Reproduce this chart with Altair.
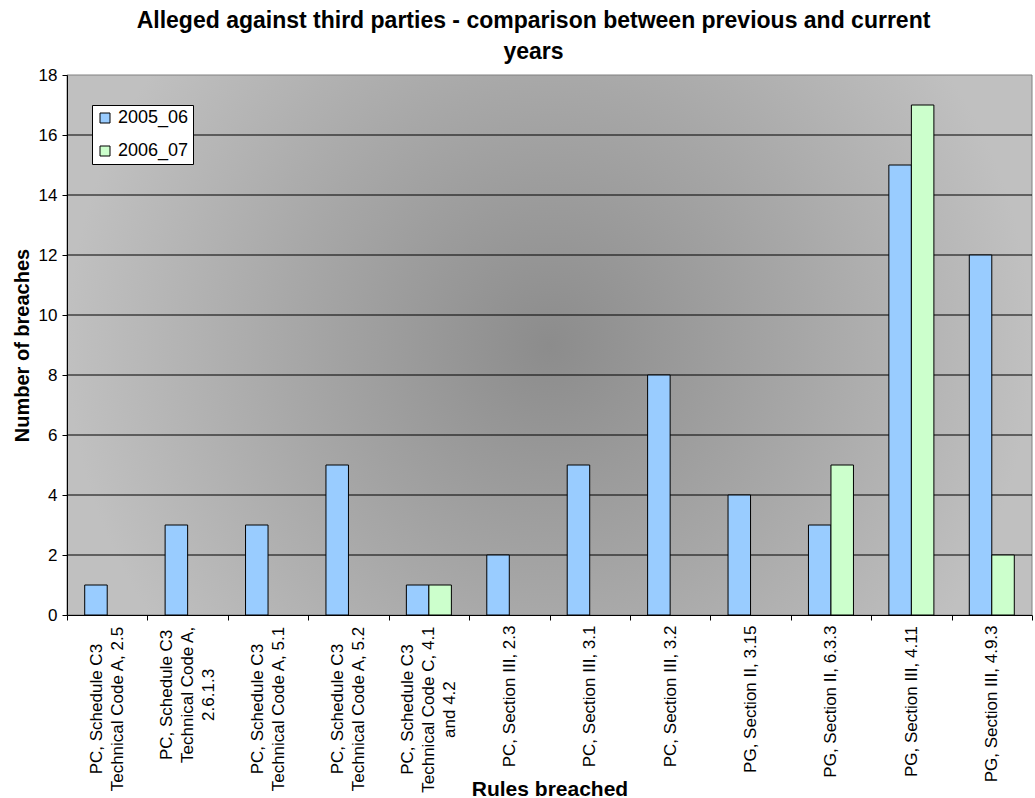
import json

import altair as alt
import pandas as pd

FONT = "Liberation Sans"

# Rules breached (category axis) - line breaks mark where each label wraps
rules = [
    "PC, Schedule C3\nTechnical Code A, 2.5",
    "PC, Schedule C3\nTechnical Code A,\n2.6.1.3",
    "PC, Schedule C3\nTechnical Code A, 5.1",
    "PC, Schedule C3\nTechnical Code A, 5.2",
    "PC, Schedule C3\nTechnical Code C, 4.1\nand 4.2",
    "PC, Section III, 2.3",
    "PC, Section III, 3.1",
    "PC, Section III, 3.2",
    "PG, Section II, 3.15",
    "PG, Section II, 6.3.3",
    "PG, Section III, 4.11",
    "PG, Section III, 4.9.3",
]
breaches_2005_06 = [1, 3, 3, 5, 1, 2, 5, 8, 4, 3, 15, 12]
breaches_2006_07 = [None, None, None, None, 1, None, None, None, None, 5, 17, 2]

series = ["2005_06", "2006_07"]
series_colors = ["#99CCFF", "#CCFFCC"]
y_ticks = [0, 2, 4, 6, 8, 10, 12, 14, 16, 18]

LABEL_SIZE = 17  # category label font size
LINE_H = 21      # line height of the wrapped category labels
LABEL_GAP = 5    # gap between tick end and the top of a label block

# Arial / Liberation Sans advance widths (1/1000 em) for the label characters
GLYPH_W = {
    " ": 278, ",": 278, ".": 278, "A": 667, "C": 722, "G": 778, "I": 278,
    "P": 667, "S": 667, "T": 611, "a": 556, "c": 500, "d": 556, "e": 556,
    "h": 556, "i": 222, "l": 222, "n": 556, "o": 556, "t": 278, "u": 556,
}


def block_length(label):
    """Pixel length of the longest line of a wrapped label."""
    return max(
        sum(GLYPH_W.get(ch, 556) for ch in ln) for ln in label.split("\n")
    ) * LABEL_SIZE / 1000


rows = []
for rule, a, b in zip(rules, breaches_2005_06, breaches_2006_07):
    rows.append({"rule": rule, "series": series[0], "breaches": a})
    if b is not None:
        rows.append({"rule": rule, "series": series[1], "breaches": b})
bars_df = pd.DataFrame(rows)

# Each label line is centred on a point half a block below the axis, so the
# block's top edge sits just under the ticks and its lines are centred.
label_padding = {
    "condition": [
        {"test": f"datum.value == {json.dumps(r)}",
         "value": round(LABEL_GAP + block_length(r) / 2, 1)}
        for r in rules
    ],
    "value": LABEL_GAP,
}
n_lines = "length(split(datum.value, '\\n'))"
label_offset = {
    "condition": [
        {"test": f"{n_lines} == 3", "value": -LINE_H},
        {"test": f"{n_lines} == 2", "value": -LINE_H / 2},
    ],
    "value": 0,
}

y_scale = alt.Scale(domain=[0, 18], nice=False, zero=True)
y_axis = alt.Axis(
    title="Number of breaches",
    values=y_ticks,
    format="d",
    labelFont=FONT,
    labelFontSize=17,
    labelColor="black",
    labelPadding=5,
    tickSize=5,
    tickColor="black",
    domainColor="black",
    grid=False,
    titleFont=FONT,
    titleFontSize=20,
    titleFontWeight="bold",
    titleColor="black",
    titleAngle=270,
    titleX=-45,
    titleY=270,
    titleAlign="center",
    titleBaseline="middle",
    zindex=1,
)

# Plot-area background: grey radial shading, darker toward the middle
background = (
    alt.Chart(pd.DataFrame({"area": [0]}))
    .mark_rect(
        fill=alt.RadialGradient(
            gradient="radial",
            stops=[
                alt.GradientStop(color="#8C8C8C", offset=0),
                alt.GradientStop(color="#A8A8A8", offset=0.55),
                alt.GradientStop(color="#C0C0C0", offset=1),
            ],
            x1=0.5, y1=0.5, r1=0, x2=0.5, y2=0.5, r2=0.5,
        ),
        stroke="#808080",
        strokeWidth=1,
    )
    .encode(x=alt.value(0), x2=alt.value("width"), y=alt.value(0), y2=alt.value("height"))
)

gridlines = (
    alt.Chart(pd.DataFrame({"breaches": [v for v in y_ticks if 0 < v < 18]}))
    .mark_rule(color="black", strokeWidth=1)
    .encode(y=alt.Y("breaches:Q", scale=y_scale, axis=y_axis))
)

bars = (
    alt.Chart(bars_df)
    .mark_bar(stroke="black", strokeWidth=1)
    .encode(
        x=alt.X(
            "rule:N",
            sort=rules,
            scale=alt.Scale(paddingInner=0, paddingOuter=0),
            axis=alt.Axis(
                title="Rules breached",
                labelExpr="split(datum.label, '\\n')",
                labelAngle=270,
                labelAlign="center",
                labelBaseline="middle",
                labelLineHeight=LINE_H,
                labelOffset=label_offset,
                labelPadding=label_padding,
                labelFont=FONT,
                labelFontSize=LABEL_SIZE,
                labelColor="black",
                labelOverlap=False,
                labelLimit=400,
                tickBand="extent",
                tickSize=5,
                tickColor="black",
                domainColor="black",
                grid=False,
                titleFont=FONT,
                titleFontSize=21,
                titleFontWeight="bold",
                titleColor="black",
                titleX=482.5,
                titleY=180,
                titleAlign="center",
                titleBaseline="alphabetic",
                zindex=1,
            ),
        ),
        xOffset=alt.XOffset(
            "series:N",
            scale=alt.Scale(domain=series, paddingInner=0, paddingOuter=0.787),
        ),
        y=alt.Y("breaches:Q", scale=y_scale, axis=y_axis),
        color=alt.Color(
            "series:N",
            scale=alt.Scale(domain=series, range=series_colors),
            legend=alt.Legend(
                title=None,
                orient="none",
                legendX=25,
                legendY=30,
                fillColor="white",
                strokeColor="black",
                padding=4,
                rowPadding=15,
                symbolType="square",
                symbolSize=100,
                symbolStrokeColor="black",
                symbolStrokeWidth=1,
                symbolOpacity=1,
                labelFont=FONT,
                labelFontSize=18,
                labelColor="black",
                labelOffset=4,
            ),
        ),
    )
)

chart = (
    alt.layer(background, gridlines, bars)
    .properties(
        width=965,
        height=540,
        title=alt.Title(
            text=[
                "Alleged against third parties - comparison between previous and current",
                "years",
            ],
            font=FONT,
            fontSize=23,
            fontWeight="bold",
            color="black",
            anchor="middle",
            dx=-16,
            offset=2,
            lineHeight=31,
        ),
        autosize=alt.AutoSizeParams(type="none"),
        padding={"left": 67, "top": 75, "right": 3, "bottom": 183},
        background="white",
    )
    .configure_view(stroke=None)
)

chart.save("out.html", embed_options={"renderer": "svg", "actions": False})
